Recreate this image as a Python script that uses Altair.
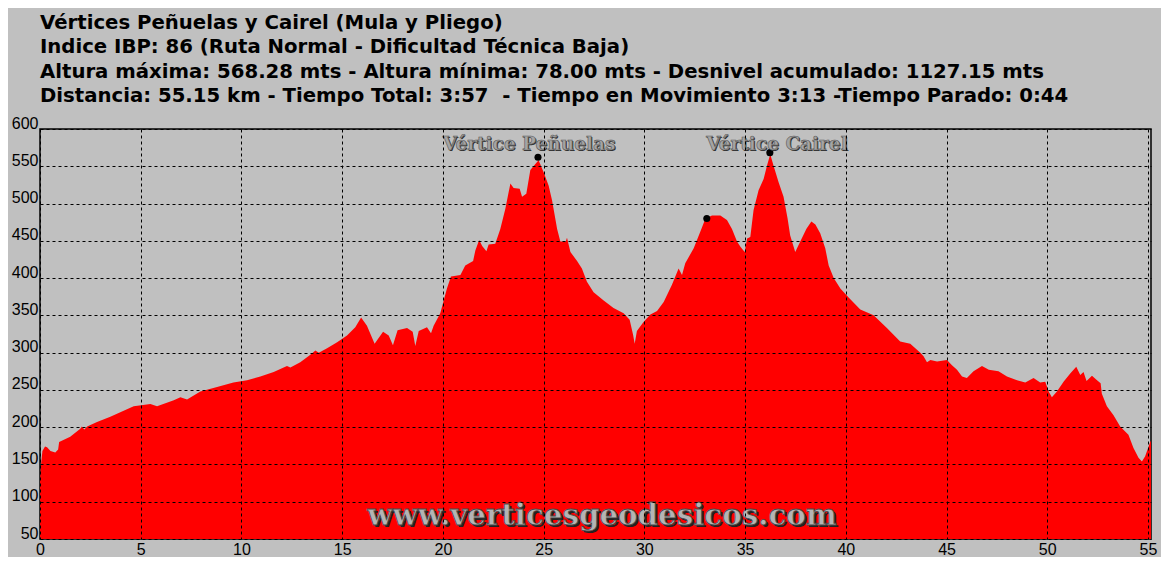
import altair as alt
import pandas as pd

# ---- profile data (km, metres) ----
km = [0.00, 0.05, 0.12, 0.25, 0.35, 0.52, 0.76, 0.90, 0.95, 1.50, 2.00, 2.08, 2.20, 2.34, 2.83,
      3.49, 4.07, 4.65, 5.48, 5.81, 6.64, 6.97, 7.30, 7.96, 8.79, 9.60, 10.28, 10.94, 11.60,
      12.26, 12.43, 12.92, 13.42, 13.67, 13.84, 14.25, 14.75, 15.24, 15.65, 15.94, 16.23,
      16.61, 17.03, 17.31, 17.52, 17.75, 18.22, 18.50, 18.63, 18.80, 19.21, 19.41, 19.54,
      19.87, 20.20, 20.40, 20.87, 21.11, 21.50, 21.61, 21.80, 21.95, 22.16, 22.27, 22.60,
      22.85, 23.10, 23.35, 23.51, 23.81, 23.93, 24.14, 24.34, 24.59, 24.75, 25.00, 25.25,
      25.42, 25.67, 25.83, 26.10, 26.16, 26.33, 26.66, 26.90, 27.15, 27.48, 27.98, 28.47,
      28.97, 29.27, 29.44, 29.52, 29.63, 29.96, 30.30, 30.63, 30.96, 31.37, 31.70, 31.87,
      32.03, 32.45, 32.86, 33.03, 33.36, 33.77, 34.10, 34.35, 34.60, 34.77, 34.98, 35.10,
      35.26, 35.42, 35.67, 35.92, 36.09, 36.25, 36.41, 36.66, 36.91, 37.11, 37.24, 37.49,
      37.74, 38.04, 38.29, 38.49, 38.73, 38.98, 39.15, 39.40, 39.73, 40.14, 40.72, 41.38,
      42.04, 42.70, 43.20, 43.70, 43.86, 44.03, 44.20, 44.53, 45.02, 45.27, 45.52, 45.77,
      46.01, 46.34, 46.76, 47.10, 47.58, 48.00, 48.50, 48.91, 49.32, 49.65, 49.90, 50.07,
      50.23, 50.48, 50.81, 51.14, 51.44, 51.64, 51.80, 51.95, 52.22, 52.47, 52.65, 52.71,
      52.96, 53.29, 53.62, 54.03, 54.28, 54.53, 54.70, 54.86, 55.11, 55.15]
altura = [128, 150, 168, 174, 173, 168, 166, 170, 180, 187, 198, 201, 197, 201, 207,
          214, 221, 228, 231, 228, 236, 240, 237, 248, 254, 260, 263, 268, 274,
          282, 280, 287, 297, 303, 300, 306, 314, 323, 334, 347, 336,
          312, 328, 323, 310, 330, 333, 328, 309, 329, 334, 326, 336,
          353, 386, 402, 404, 417, 423, 437, 451, 443, 436, 445, 446,
          466, 493, 527, 521, 520, 509, 513, 545, 553, 558, 542, 524,
          504, 466, 449, 449, 454, 435, 423, 413, 395, 381, 370, 360,
          353, 344, 324, 312, 329, 341, 351, 356, 368, 391, 413, 404,
          420, 440, 468, 480, 484, 484, 478, 466, 449, 442, 435, 453,
          455, 491, 518, 533, 551, 566, 551, 529, 509, 480, 457, 435,
          449, 466, 476, 472, 460, 440, 417, 400, 386, 374, 358, 350,
          333, 315, 312, 300, 295, 287, 290, 288, 290, 283, 277, 268,
          266, 275, 282, 277, 275, 268, 263, 260, 266, 260, 261, 248,
          240, 248, 261, 272, 281, 270, 274, 262, 269, 263, 259, 245,
          228, 216, 201, 190, 172, 159, 154, 161, 180, 182]

peak_km = [24.72, 33.10, 36.23]
peak_alt = [562, 480, 568.28]

label_names = ["Vértice Peñuelas", "Vértice Cairel"]
label_km = [24.28, 36.58]
label_alt = [572, 572]

watermark_text = ["www.verticesgeodesicos.com"]
watermark_km = [27.9]
watermark_alt = [69]

title_lines = [
    "Vértices Peñuelas y Cairel (Mula y Pliego)",
    "Indice IBP: 86 (Ruta Normal - Dificultad Técnica Baja)",
    "Altura máxima: 568.28 mts - Altura mínima: 78.00 mts - Desnivel acumulado: 1127.15 mts",
    "Distancia: 55.15 km - Tiempo Total: 3:57\u00a0 - Tiempo en Movimiento 3:13 -Tiempo Parado: 0:44",
]

x_ticks = [0, 5, 10, 15, 20, 25, 30, 35, 40, 45, 50, 55]
y_ticks = [50, 100, 150, 200, 250, 300, 350, 400, 450, 500, 550, 600]

profile = pd.DataFrame({"km": km, "alt": altura})
peaks = pd.DataFrame({"km": peak_km, "alt": peak_alt})
labels = pd.DataFrame({"km": label_km, "alt": label_alt, "name": label_names})
wm = pd.DataFrame({"km": watermark_km, "alt": watermark_alt, "t": watermark_text})

xscale = alt.Scale(domain=[0, 55.15], nice=False, zero=False)
yscale = alt.Scale(domain=[50, 600], nice=False, zero=False)

grid_axis = dict(grid=True, gridColor="black", gridDash=[3, 3], gridWidth=1, gridOpacity=1,
                 domain=False, ticks=False, labelColor="black", labelFontSize=16,
                 labelFont="Liberation Sans", labelOverlap=False, labelFlush=False,
                 labelSeparation=0, labelBound=False, tickCount=40, zindex=1, title=None)

area = alt.Chart(profile).mark_area(color="#FF0000", clip=True, interpolate="linear").encode(
    x=alt.X("km:Q", scale=xscale, axis=alt.Axis(values=x_ticks, labelPadding=2, **grid_axis)),
    y=alt.Y("alt:Q", scale=yscale,
            axis=alt.Axis(values=y_ticks, labelPadding=2, labelBaseline="bottom",
                          labelOffset=2, **grid_axis)),
    y2=alt.datum(50),
)

dots = alt.Chart(peaks).mark_circle(color="black", opacity=1, size=50).encode(
    x=alt.X("km:Q", scale=xscale), y=alt.Y("alt:Q", scale=yscale))

lab_shadow = alt.Chart(labels).mark_text(
    font="DejaVu Serif", fontWeight="bold", fontSize=18.5, color="#2a2a2a",
    baseline="alphabetic", align="center", dx=1, dy=1).encode(
    x=alt.X("km:Q", scale=xscale), y=alt.Y("alt:Q", scale=yscale), text="name:N")
lab_main = alt.Chart(labels).mark_text(
    font="DejaVu Serif", fontWeight="bold", fontSize=18.5, fill="#a4a4a4",
    stroke="#5a5a5a", strokeWidth=0.6,
    baseline="alphabetic", align="center").encode(
    x=alt.X("km:Q", scale=xscale), y=alt.Y("alt:Q", scale=yscale), text="name:N")

wm_shadow = alt.Chart(wm).mark_text(
    font="DejaVu Serif", fontWeight="bold", fontSize=29.3, color="#222222",
    baseline="alphabetic", align="center", dx=2, dy=2).encode(
    x=alt.X("km:Q", scale=xscale), y=alt.Y("alt:Q", scale=yscale), text="t:N")
wm_main = alt.Chart(wm).mark_text(
    font="DejaVu Serif", fontWeight="bold", fontSize=29.3, fill="#b4b4b4",
    stroke="#4a4a4a", strokeWidth=0.8,
    baseline="alphabetic", align="center").encode(
    x=alt.X("km:Q", scale=xscale), y=alt.Y("alt:Q", scale=yscale), text="t:N")

chart = alt.layer(area, dots, lab_shadow, lab_main, wm_shadow, wm_main).properties(
    width=1111, height=410,
    title=alt.TitleParams(text=title_lines, anchor="start", frame="group",
                          font="DejaVu Sans", fontSize=19.7, fontWeight="bold",
                          color="black", lineHeight=24.5, offset=9),
    autosize=alt.AutoSizeParams(type="none"),
    padding={"left": 32, "top": 121, "right": 10, "bottom": 18},
).configure(background="#C0C0C0").configure_view(
    stroke="black", strokeWidth=1.5
).configure_axis(labelOverlap=False, labelSeparation=0)

chart.save("out.html", embed_options={"renderer": "svg", "actions": False})
